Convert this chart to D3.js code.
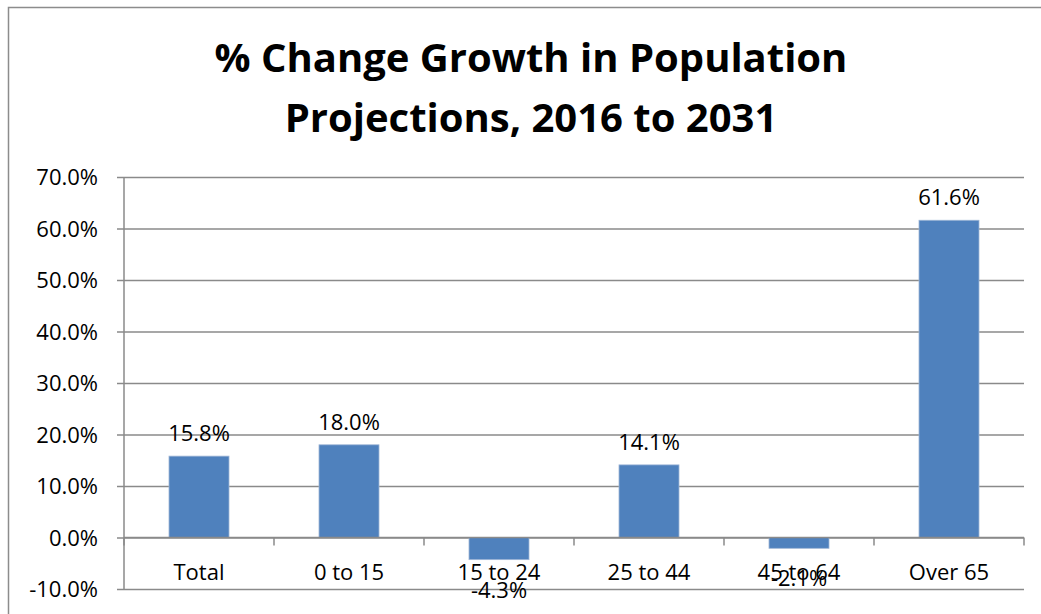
<!DOCTYPE html>
<html>
<head>
<meta charset="utf-8">
<script src="https://cdn.jsdelivr.net/npm/d3@7"></script>
<style>
  body { margin: 0; background: #fff; }
  svg { display: block; }
  text { font-family: 'Open Sans', 'Noto Sans', sans-serif; fill: #000; }
</style>
</head>
<body>
<script>
// data
let categories = ['Total', '0 to 15', '15 to 24', '25 to 44', '45 to 64', 'Over 65'];
let values = [15.8, 18.0, -4.3, 14.1, -2.1, 61.6];
let yTicks = [-10, 0, 10, 20, 30, 40, 50, 60, 70];
let titleLines = ['% Change Growth in Population', 'Projections, 2016 to 2031'];

const W = 1041, H = 614;
const plot = {left: 124, right: 1024, top: 177, bottom: 589};

let svg = d3.select('body').append('svg')
  .attr('width', W)
  .attr('height', H);

// chart border (only top and left show inside the frame)
svg.append('path')
  .attr('d', 'M8.5,' + H + 'V7.5H' + W)
  .attr('fill', 'none')
  .attr('stroke', '#8c8c8c')
  .attr('stroke-width', 1.5);

// title
svg.selectAll('text.title')
  .data(titleLines)
  .enter()
  .append('text')
  .attr('class', 'title')
  .attr('x', 531)
  .attr('y', (d, i) => 72 + i * 60)
  .attr('text-anchor', 'middle')
  .style('font-size', '40px')
  .style('font-weight', 700)
  .text(d => d);

// bars take 40% of each category slot
let x = d3.scaleBand()
  .domain(categories)
  .range([plot.left, plot.right])
  .paddingInner(0.6)
  .paddingOuter(0.3);

let xb = d3.scaleBand()
  .domain(categories)
  .range([plot.left, plot.right]);

let y = d3.scaleLinear()
  .domain([-10, 70])
  .range([plot.bottom, plot.top]);

// gridlines + y axis
let yAxis = d3.axisLeft(y)
  .tickValues(yTicks)
  .tickSize(-(plot.right - plot.left))
  .tickPadding(26)
  .tickFormat(d => d.toFixed(1) + '%');

let gy = svg.append('g')
  .attr('transform', 'translate(' + plot.left + ',0)')
  .call(yAxis);

gy.select('.domain').remove();
gy.selectAll('.tick line')
  .attr('x1', -7)
  .attr('stroke', '#8a8a8a')
  .attr('stroke-width', 1.5);
gy.selectAll('.tick text')
  .attr('dy', '0.36em')
  .style('font-size', '22px')
  .style('font-family', "'Open Sans', sans-serif")
  .attr('fill', '#000');

svg.append('line')
  .attr('x1', plot.left).attr('x2', plot.left)
  .attr('y1', plot.top).attr('y2', plot.bottom)
  .attr('stroke', '#8a8a8a')
  .attr('stroke-width', 1.5);

// bars
svg.selectAll('rect.bar')
  .data(values)
  .enter()
  .append('rect')
  .attr('class', 'bar')
  .attr('x', (d, i) => x(categories[i]))
  .attr('width', x.bandwidth())
  .attr('y', d => y(Math.max(0, d)))
  .attr('height', d => Math.abs(y(d) - y(0)))
  .attr('fill', '#4f81bd')
  .attr('stroke', '#9fb6d6')
  .attr('stroke-width', 0.8);

// x axis at zero with category tick marks
let xTicks = categories.map(c => xb(c)).concat([plot.right]);
svg.append('line')
  .attr('x1', plot.left).attr('x2', plot.right)
  .attr('y1', y(0)).attr('y2', y(0))
  .attr('stroke', '#8a8a8a')
  .attr('stroke-width', 1.5);
svg.selectAll('line.xtick')
  .data(xTicks)
  .enter()
  .append('line')
  .attr('class', 'xtick')
  .attr('x1', d => d).attr('x2', d => d)
  .attr('y1', y(0)).attr('y2', y(0) + 8)
  .attr('stroke', '#8a8a8a')
  .attr('stroke-width', 1.5);

// category labels
svg.selectAll('text.cat')
  .data(categories)
  .enter()
  .append('text')
  .attr('class', 'cat')
  .attr('x', d => xb(d) + xb.bandwidth() / 2)
  .attr('y', 580)
  .attr('text-anchor', 'middle')
  .style('font-size', '22px')
  .text(d => d);

// data labels (negatives sit under the bar end, as in the original)
svg.selectAll('text.val')
  .data(values)
  .enter()
  .append('text')
  .attr('class', 'val')
  .attr('x', (d, i) => xb(categories[i]) + xb.bandwidth() / 2)
  .attr('y', d => d >= 0 ? y(d) - 15 : y(d) + 38)
  .attr('text-anchor', 'middle')
  .style('font-size', '22px')
  .text(d => d.toFixed(1) + '%');
</script>
</body>
</html>
